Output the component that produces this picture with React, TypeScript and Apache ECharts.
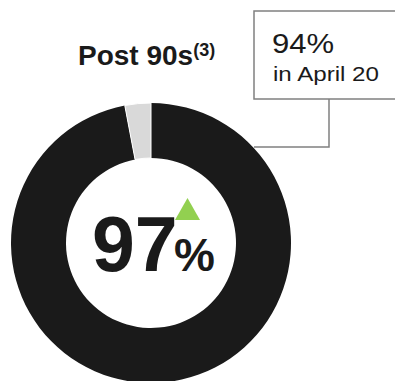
import React, { useEffect, useRef } from "react";
import * as echarts from "echarts";

const categories = ["Satisfied", "Other"];
const values = [97, 3];
const titleText = "Post 90s";
const titleNote = "(3)";
const mainValue = "97";
const prevValue = "94%";
const prevLabel = "in April 20";

export default function App() {
  const ref = useRef<HTMLDivElement>(null);
  useEffect(() => {
    document.body.style.margin = "0";
    const chart = echarts.init(ref.current!, null, { renderer: "svg" });
    const font = "Liberation Sans, Arial, sans-serif";
    chart.setOption({
      animation: false,
      backgroundColor: "#ffffff",
      series: [
        {
          type: "pie",
          center: [151, 243],
          radius: [85, 140],
          startAngle: 90,
          clockwise: true,
          silent: true,
          label: { show: false },
          labelLine: { show: false },
          data: categories.map((c, i) => ({
            name: c,
            value: values[i],
            itemStyle:
              i === 0
                ? { color: "#1a1a1a" }
                : { color: "#d9d9d9", borderColor: "#ffffff", borderWidth: 1 },
          })),
        },
      ],
      graphic: [
        {
          type: "text",
          x: 78,
          y: 55,
          style: {
            text: `{t|${titleText}}{s|${titleNote}}`,
            verticalAlign: "middle",
            fontFamily: font,
            rich: {
              t: { fontSize: 28, fontWeight: "bold", fill: "#1a1a1a", fontFamily: font },
              s: { fontSize: 18, fontWeight: "bold", fill: "#1a1a1a", fontFamily: font, verticalAlign: "top", padding: [0, 0, 9, 0] },
            },
          },
        },
        {
          type: "rect",
          shape: { x: 254, y: 11, width: 160, height: 88 },
          style: { fill: "#ffffff", stroke: "#808080", lineWidth: 1.5 },
        },
        {
          type: "polyline",
          shape: { points: [[329, 99], [329, 147], [254, 147]] },
          style: { fill: "none", stroke: "#808080", lineWidth: 1.5 },
        },
        {
          type: "text",
          x: 272,
          y: 44,
          scaleX: 1.15,
          style: { text: prevValue, fontSize: 27, fill: "#1a1a1a", fontFamily: font, verticalAlign: "middle" },
        },
        {
          type: "text",
          x: 273,
          y: 74,
          scaleX: 1.15,
          style: { text: prevLabel, fontSize: 21, fill: "#1a1a1a", fontFamily: font, verticalAlign: "middle" },
        },
        {
          type: "text",
          x: 92,
          y: 282,
          style: { text: mainValue, fontSize: 77, fontWeight: "bold", fill: "#1a1a1a", fontFamily: font, verticalAlign: "bottom" },
        },
        {
          type: "text",
          x: 174,
          y: 278,
          style: { text: "%", fontSize: 46, fontWeight: "bold", fill: "#1a1a1a", fontFamily: font, verticalAlign: "bottom" },
        },
        {
          type: "polygon",
          shape: { points: [[175, 220], [200, 220], [187.5, 198]] },
          style: { fill: "#92d050" },
        },
      ],
    });
    return () => chart.dispose();
  }, []);
  return <div ref={ref} style={{ width: 395, height: 381 }} />;
}
